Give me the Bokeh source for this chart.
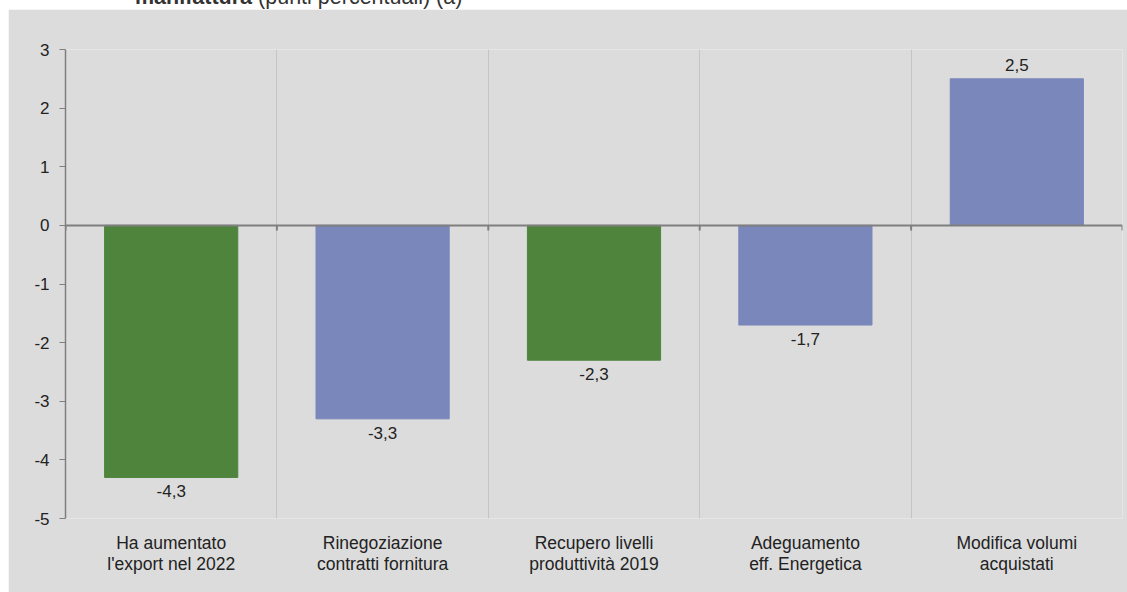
from bokeh.plotting import figure
from bokeh.models import (Range1d, FixedTicker, ColumnDataSource, LabelSet, Span, Div, Spacer,
                          BoxAnnotation)
from bokeh.core.properties import value
from bokeh.layouts import column, row
from bokeh.embed import file_html
from bokeh.resources import INLINE

# ---- data ----
categories = ["Ha aumentato\nl'export nel 2022",
              "Rinegoziazione\ncontratti fornitura",
              "Recupero livelli\nproduttività 2019",
              "Adeguamento\neff. Energetica",
              "Modifica volumi\nacquistati"]
values = [-4.3, -3.3, -2.3, -1.7, 2.5]
value_labels = ["-4,3", "-3,3", "-2,3", "-1,7", "2,5"]
colors = ["#4f843d", "#7a87bb", "#4f843d", "#7a87bb", "#7a87bb"]
y_ticks = [-5, -4, -3, -2, -1, 0, 1, 2, 3]
y_tick_labels = ["-5", "-4", "-3", "-2", "-1", "0", "1", "2", "3"]

FONT = "Liberation Sans"
BG = "#dcdcdc"

n = len(categories)
centers = [i + 0.5 for i in range(n)]
boundaries = [i + 1 for i in range(n)]

src = ColumnDataSource(dict(
    x=centers, top=values, color=colors, label=value_labels,
    yoff=[-14 if v < 0 else 14 for v in values],
))

p = figure(width=1119, height=583, output_backend="svg", toolbar_location=None,
           x_range=Range1d(0, n), y_range=Range1d(-5, 3),
           min_border_left=57, min_border_right=5, min_border_top=40, min_border_bottom=74)
p.background_fill_color = BG
p.border_fill_color = BG
p.outline_line_color = "#e6e6e6"

# light inner border of the panel
p.add_layout(BoxAnnotation(left=5, top=8, right=1300, bottom=800,
                           left_units="canvas", right_units="canvas",
                           top_units="canvas", bottom_units="canvas",
                           fill_alpha=0, line_color="#e8e8e8", line_width=1,
                           level="underlay", editable=False))

p.vbar(x="x", top="top", bottom=0, width=0.63, color="color", source=src)

# zero line
p.add_layout(Span(location=0, dimension="width", line_color="#7f7f7f", line_width=2))
# small ticks on the zero line at category boundaries
p.segment(x0=[0] + boundaries, x1=[0] + boundaries, y0=0, y1=-5 / 58.6,
          line_color="#7f7f7f", line_width=2)

labels = LabelSet(x="x", y="top", text="label", y_offset="yoff", source=src,
                  text_align="center", text_baseline="middle",
                  text_font=value(FONT), text_font_size="17px", text_color="#222222")
p.add_layout(labels)

# x axis: labels only
p.xaxis.ticker = FixedTicker(ticks=centers)
p.xaxis.major_label_overrides = {c: lab for c, lab in zip(centers, categories)}
p.xaxis.axis_line_color = None
p.xaxis.major_tick_line_color = None
p.xaxis.minor_tick_line_color = None
p.xaxis.major_label_standoff = 8
p.xaxis.major_label_text_font = FONT
p.xaxis.major_label_text_font_size = "17.5px"
p.xaxis.major_label_text_line_height = 1.05
p.xaxis.major_label_text_color = "#222222"

p.xgrid.ticker = FixedTicker(ticks=boundaries)
p.xgrid.grid_line_color = "#c4c4c4"
p.xgrid.grid_line_width = 1
p.ygrid.grid_line_color = None

p.yaxis.ticker = FixedTicker(ticks=y_ticks)
p.yaxis.major_label_overrides = {t: lab for t, lab in zip(y_ticks, y_tick_labels)}
p.yaxis.axis_line_color = "#7f7f7f"
p.yaxis.axis_line_width = 1.5
p.yaxis.major_tick_line_color = "#7f7f7f"
p.yaxis.major_tick_out = 6
p.yaxis.major_tick_in = 0
p.yaxis.minor_tick_line_color = None
p.yaxis.major_label_standoff = 10
p.yaxis.major_label_text_font = FONT
p.yaxis.major_label_text_font_size = "17px"
p.yaxis.major_label_text_color = "#222222"

title = Div(
    text=("<div style=\"position:absolute; left:135px; top:-15px; white-space:nowrap; "
          "font-family:'Liberation Sans'; font-size:21.5px; line-height:1.15; color:#333;\">"
          "<b>manifattura</b> (punti percentuali) (a)</div>"),
    width=1127, height=9, margin=0,
    styles={"overflow": "hidden", "position": "relative", "background": "white"},
)

layout = column(title, row(Spacer(width=8, height=583, margin=0), p), spacing=0)
layout.margin = 0

open("out.html", "w").write(file_html(layout, INLINE))
